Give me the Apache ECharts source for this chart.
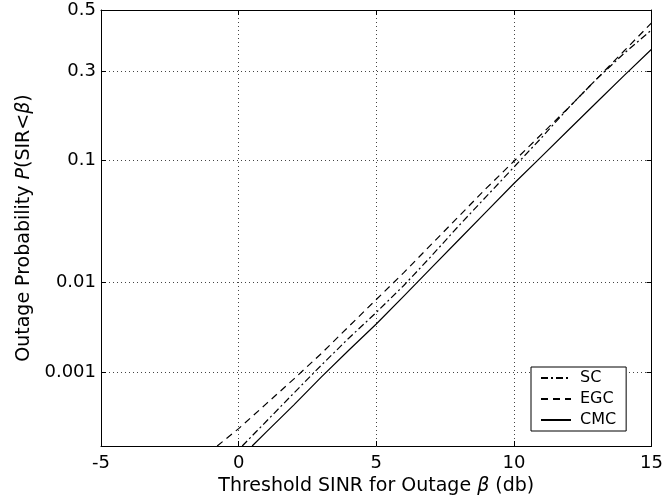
<!DOCTYPE html>
<html>
<head>
<meta charset="utf-8">
<script src="https://cdn.jsdelivr.net/npm/echarts@6/dist/echarts.min.js"></script>
<style>
  html, body { margin: 0; padding: 0; background: #fff; }
  #chart { width: 666px; height: 502px; }
</style>
</head>
<body>
<div id="chart"></div>
<script>
// threshold SINR in dB, outage probability
const sinrSC = [0.13, 1, 2, 3, 4, 5, 6, 7, 8, 9, 10, 11, 12, 13, 14, 15];
const probSC = [0.0001, 0.000224, 0.00054, 0.00122, 0.00256, 0.00494, 0.00939, 0.0179, 0.0329, 0.0559, 0.0901, 0.1379, 0.2033, 0.2776, 0.3557, 0.4325];

const sinrEGC = [-0.78, 0, 1, 2, 3, 4, 5, 6, 7, 8, 9, 10, 11, 12, 13, 14, 15];
const probEGC = [0.0001, 0.000178, 0.00039, 0.00082, 0.00169, 0.00347, 0.00676, 0.01255, 0.0228, 0.0392, 0.0643, 0.0985, 0.1446, 0.2033, 0.2776, 0.3632, 0.4562];

const sinrCMC = [0.49, 1, 2, 3, 4, 5, 6, 7, 8, 9, 10, 11, 12, 13, 14, 15];
const probCMC = [0.0001, 0.000159, 0.000376, 0.00087, 0.00185, 0.0037, 0.00734, 0.0139, 0.025, 0.0427, 0.0694, 0.1056, 0.154, 0.215, 0.288, 0.369];

const xTicks = [-5, 0, 5, 10, 15];
const yTickProbs = [0.001, 0.01, 0.1, 0.3, 0.5];
const yTickLabels = ['0.001', '0.01', '0.1', '0.3', '0.5'];
const yMinProb = 0.0001;

// the y axis is a normal probability scale, so values go through the inverse normal cdf
function probit(p) {
  const a = [-3.969683028665376e+01, 2.209460984245205e+02, -2.759285104469687e+02, 1.383577518672690e+02, -3.066479806614716e+01, 2.506628277459239e+00];
  const b = [-5.447609879822406e+01, 1.615858368580409e+02, -1.556989798598866e+02, 6.680131188771972e+01, -1.328068155288572e+01];
  const c = [-7.784894002430293e-03, -3.223964580411365e-01, -2.400758277161838e+00, -2.549732539343734e+00, 4.374664141464968e+00, 2.938163982698783e+00];
  const d = [7.784695709041462e-03, 3.224671290700398e-01, 2.445134137142996e+00, 3.754408661907416e+00];
  const pl = 0.02425;
  if (p < pl) {
    const q = Math.sqrt(-2 * Math.log(p));
    return (((((c[0] * q + c[1]) * q + c[2]) * q + c[3]) * q + c[4]) * q + c[5]) /
      ((((d[0] * q + d[1]) * q + d[2]) * q + d[3]) * q + 1);
  }
  if (p <= 1 - pl) {
    const q = p - 0.5, r = q * q;
    return (((((a[0] * r + a[1]) * r + a[2]) * r + a[3]) * r + a[4]) * r + a[5]) * q /
      (((((b[0] * r + b[1]) * r + b[2]) * r + b[3]) * r + b[4]) * r + 1);
  }
  const q = Math.sqrt(-2 * Math.log(1 - p));
  return -(((((c[0] * q + c[1]) * q + c[2]) * q + c[3]) * q + c[4]) * q + c[5]) /
    ((((d[0] * q + d[1]) * q + d[2]) * q + d[3]) * q + 1);
}

const yTickValues = yTickProbs.map(probit);
const yMin = probit(yMinProb);
const yMax = probit(0.5);

function pairs(xs, ps) {
  return xs.map((x, i) => [x, probit(ps[i])]);
}

function yLabel(v) {
  for (let i = 0; i < yTickValues.length; i++) {
    if (Math.abs(yTickValues[i] - v) < 1e-6) return yTickLabels[i];
  }
  return '';
}

const font = 'DejaVu Sans';
const black = '#000';
const gridLine = { show: true, lineStyle: { color: '#444', width: 1, type: [1, 3] } };

const chart = echarts.init(document.getElementById('chart'));
chart.setOption({
  backgroundColor: '#ffffff',
  animation: false,
  textStyle: { fontFamily: font, color: black },
  grid: { left: 101, right: 13, top: 10, bottom: 56 },
  legend: {
    orient: 'vertical',
    left: 531,
    top: 367,
    padding: [3, 10, 3, 9],
    itemGap: 5,
    itemWidth: 30,
    itemHeight: 14,
    backgroundColor: '#fff',
    borderColor: black,
    borderWidth: 1,
    itemStyle: { opacity: 0, borderWidth: 0 },
    textStyle: { fontFamily: font, fontSize: 16, color: black, padding: [0, 0, 0, 4] },
    data: ['SC', 'EGC', 'CMC']
  },
  xAxis: [
    {
      type: 'value',
      min: -5,
      max: 15,
      interval: 5,
      name: '{n|Threshold SINR for Outage }{i|β}{n| (db)}',
      nameLocation: 'middle',
      nameGap: 31,
      nameTextStyle: {
        rich: {
          n: { fontFamily: font, fontSize: 19, color: black },
          i: { fontFamily: font, fontSize: 19, color: black, fontStyle: 'italic' }
        }
      },
      axisLine: { onZero: false, lineStyle: { color: black, width: 1 } },
      axisTick: { inside: true, length: 5, lineStyle: { color: black } },
      axisLabel: { fontFamily: font, fontSize: 18, color: black, margin: 8 },
      splitLine: gridLine
    },
    {
      type: 'value',
      position: 'top',
      min: -5,
      max: 15,
      interval: 5,
      axisLine: { onZero: false, lineStyle: { color: black, width: 1 } },
      axisTick: { inside: true, length: 5, lineStyle: { color: black } },
      axisLabel: { show: false },
      splitLine: { show: false }
    }
  ],
  yAxis: [
    {
      type: 'value',
      min: yMin,
      max: yMax,
      name: 'Outage Probability {i|P}(SIR<{i|β})',
      nameLocation: 'middle',
      nameGap: 66,
      nameTextStyle: {
        fontFamily: font,
        fontSize: 19,
        color: black,
        rich: {
          i: { fontFamily: font, fontSize: 19, color: black, fontStyle: 'italic' }
        }
      },
      axisLine: { onZero: false, lineStyle: { color: black, width: 1 } },
      axisTick: { inside: true, length: 5, lineStyle: { color: black }, customValues: yTickValues },
      axisLabel: { fontFamily: font, fontSize: 18, color: black, margin: 5, customValues: yTickValues, formatter: yLabel },
      splitLine: gridLine
    },
    {
      type: 'value',
      position: 'right',
      min: yMin,
      max: yMax,
      axisLine: { onZero: false, lineStyle: { color: black, width: 1 } },
      axisTick: { inside: true, length: 5, lineStyle: { color: black }, customValues: yTickValues },
      axisLabel: { show: false },
      splitLine: { show: false }
    }
  ],
  series: [
    {
      name: 'SC',
      type: 'line',
      symbol: 'none',
      color: black,
      lineStyle: { color: black, width: 1.2, type: [7, 3, 2, 3] },
      data: pairs(sinrSC, probSC)
    },
    {
      name: 'EGC',
      type: 'line',
      symbol: 'none',
      color: black,
      lineStyle: { color: black, width: 1.2, type: [7, 5] },
      data: pairs(sinrEGC, probEGC)
    },
    {
      name: 'CMC',
      type: 'line',
      symbol: 'none',
      color: black,
      lineStyle: { color: black, width: 1.2 },
      data: pairs(sinrCMC, probCMC)
    }
  ]
});
</script>
</body>
</html>
